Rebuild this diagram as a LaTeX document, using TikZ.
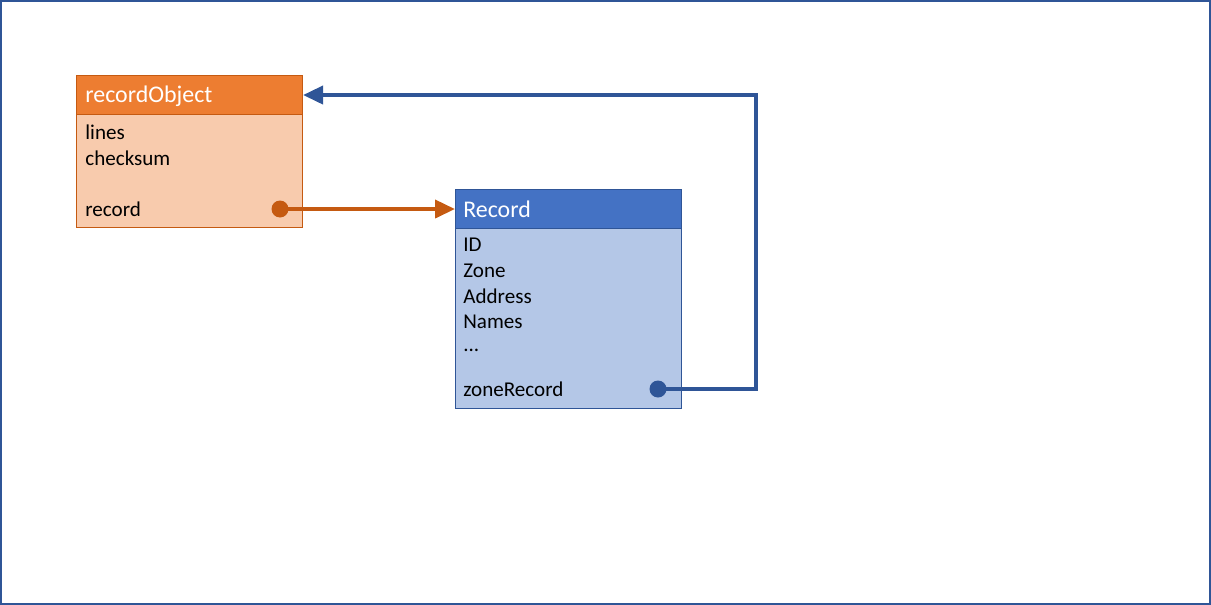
\documentclass[tikz,border=0pt]{standalone}
\usepackage{fontspec}
\setmainfont{Carlito}
\usetikzlibrary{positioning,arrows.meta}

\definecolor{orhead}{HTML}{ED7D31}
\definecolor{orbody}{HTML}{F8CBAD}
\definecolor{orline}{HTML}{C55A11}
\definecolor{blhead}{HTML}{4472C4}
\definecolor{blbody}{HTML}{B4C7E7}
\definecolor{blline}{HTML}{2F5597}

\begin{document}
\begin{tikzpicture}[
  x=0.02cm, y=-0.02cm,
  every node/.style={font=\fontsize{12}{14}\selectfont},
  head/.style={rectangle, draw, minimum width=226*0.02cm, minimum height=39*0.02cm,
               anchor=north west, inner sep=0pt, line width=0.6pt},
  body/.style={rectangle, draw, minimum width=226*0.02cm, anchor=north west,
               inner sep=0pt, line width=0.6pt},
  title/.style={anchor=west, text=white, inner sep=0pt, font=\fontsize{13.6}{16}\selectfont},
  field/.style={anchor=west, inner sep=0pt},
  pin/.style={circle, minimum size=17*0.02cm, inner sep=0pt},
  link/.style={line width=2.2pt, -{Triangle[length=0.4cm, width=0.36cm]}}
]

% Page: 1 unit = 1 pixel of the layout, y grows downwards.
\useasboundingbox (0,0) rectangle (1211,605);
\draw[blline, line width=0.9pt] (0.8,0.8) rectangle (1210.2,604.2);

% recordObject box
\node[body, fill=orbody, draw=orline, minimum height=113*0.02cm] (Obody) at (76,114) {};
\node[head, fill=orhead, draw=orline] (Ohead) at (76,75) {};
\node[title] (Otitle) at (85,96) {recordObject};
\node[field] (Olines) at (85,132) {lines};
\node[field] (Ocheck) at (85,158) {checksum};
\node[field] (Orec)   at (85,209) {record};
\node[pin, fill=orline] (Opin) at (280,209) {};

% Record box
\node[body, fill=blbody, draw=blline, minimum height=181*0.02cm] (Rbody) at (455,227) {};
\node[head, fill=blhead, draw=blline] (Rhead) at (455,189) {};
\node[title] (Rtitle) at (463,209) {Record};
\node[field] (Rid)    at (463,245) {ID};
\node[field] (Rzone)  at (463,271) {Zone};
\node[field] (Raddr)  at (463,296) {Address};
\node[field] (Rnames) at (463,322) {Names};
\node[field] (Rmore)  at (463,350) {...};
\node[field] (Rzrec)  at (463,389) {zoneRecord};
\node[pin, fill=blline] (Rpin) at (658,389) {};

% record -> Record, zoneRecord -> recordObject
\draw[link, orline] (Opin.center) -- (Rhead.west);
\draw[link, blline] (Rpin.center) -- (756,389) |- (Ohead.east);

\end{tikzpicture}
\end{document}
